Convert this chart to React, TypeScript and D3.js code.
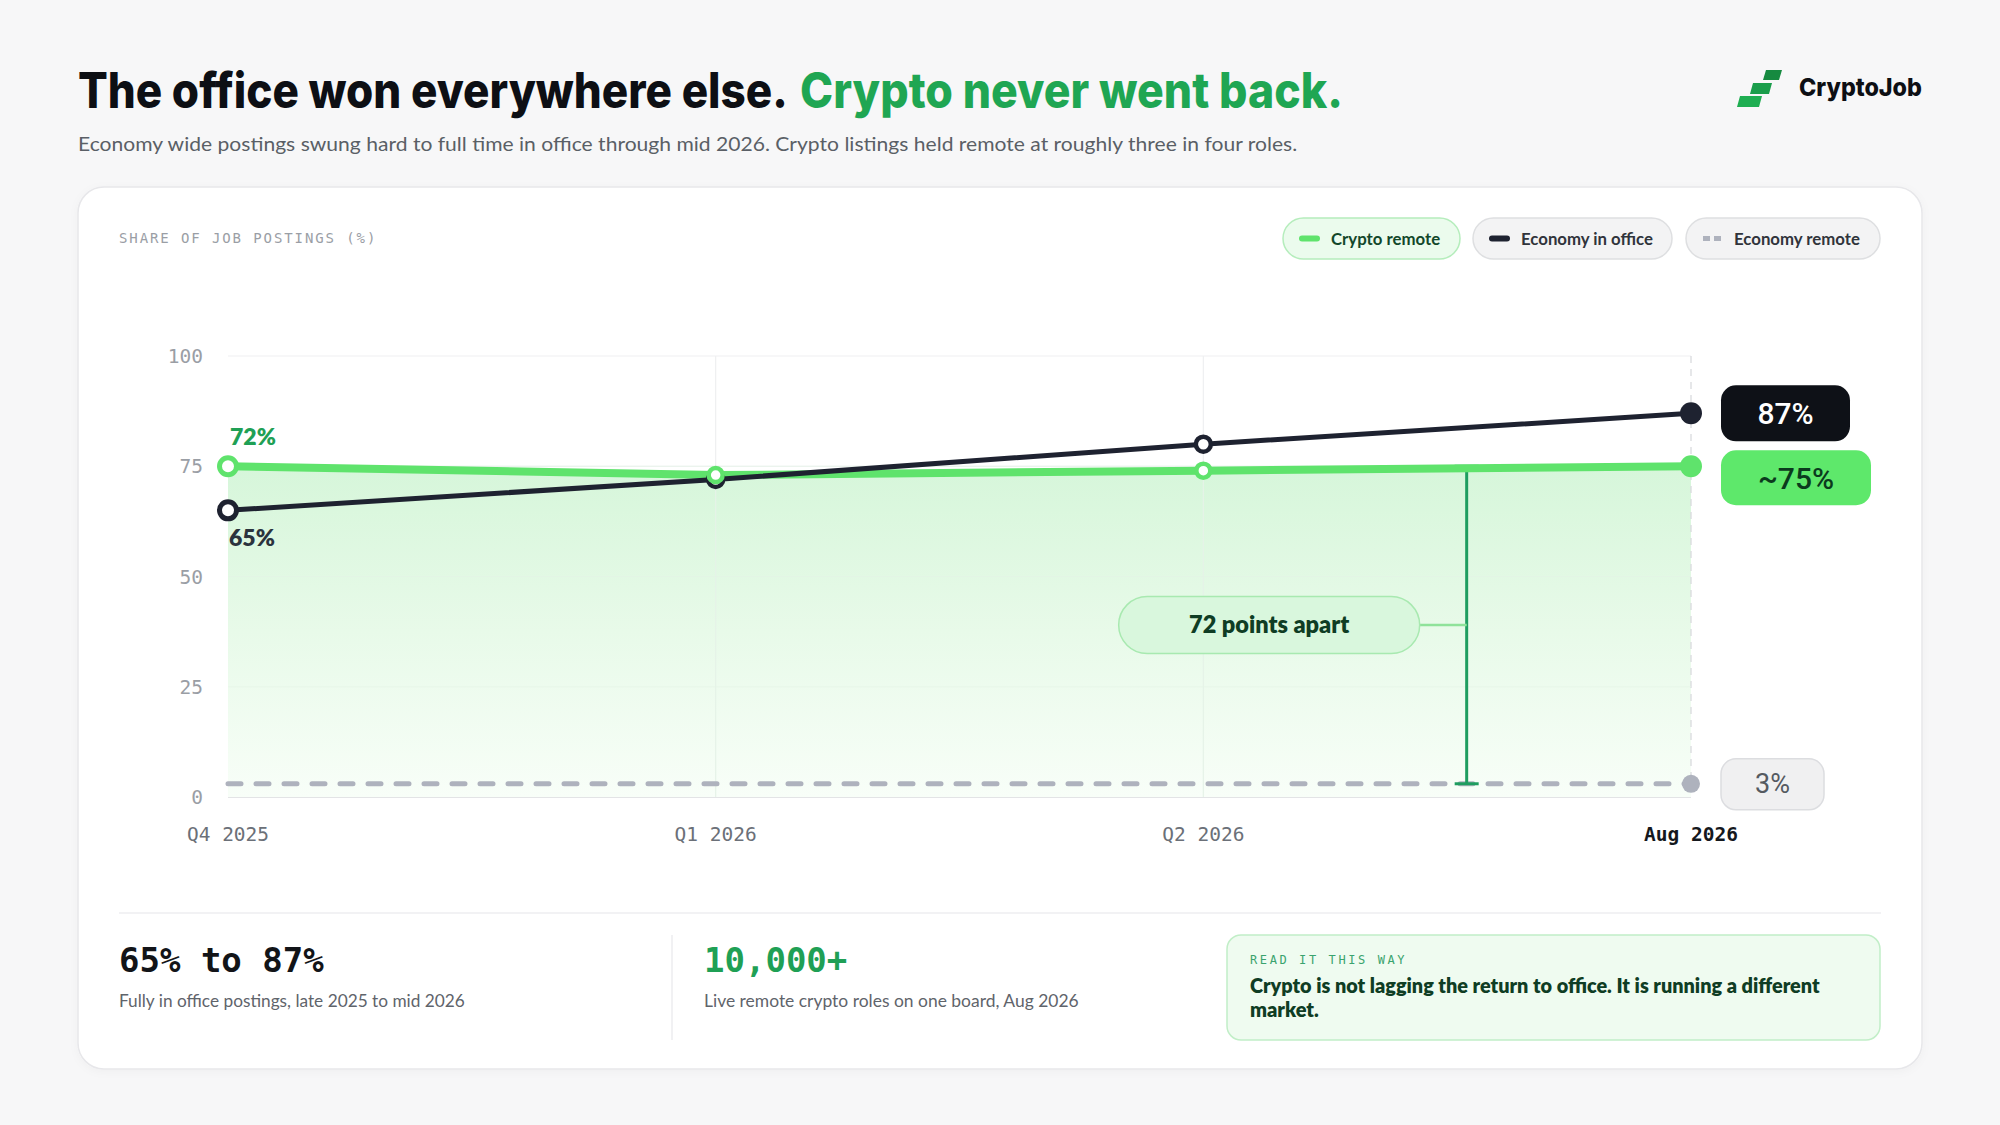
import React, { useLayoutEffect, useRef, useState } from "react";
import * as d3 from "d3";

const categories = ["Q4 2025", "Q1 2026", "Q2 2026", "Aug 2026"];
const cryptoRemote = [75, 73, 74, 75];
const economyInOffice = [65, 72, 80, 87];
const economyRemote = [3, 3, 3, 3];
const yTicks = [0, 25, 50, 75, 100];
const endLabels = ["87%", "~75%", "3%"];
const startLabels = ["72%", "65%"];
const gapLabel = "72 points apart";
const gapPosition = 0.54; // fraction between Q2 2026 and Aug 2026

const W = 2000;
const H = 1125;
const SANS = "Lato, 'Noto Sans', sans-serif";
const TITLE = "Inter, Lato, sans-serif";
const MONO = "'DejaVu Sans Mono', 'Liberation Mono', monospace";
const GREEN = "#5fe36c";
const DARK = "#1e2230";
const GREY = "#aeb2bd";

function FitText({ x, y, width, children, ...rest }: any) {
  const ref = useRef<SVGTextElement>(null);
  const [s, setS] = useState(1);
  useLayoutEffect(() => {
    if (ref.current) {
      const w = ref.current.getComputedTextLength();
      if (w > 0) setS(width / w);
    }
  }, [width]);
  return (
    <text ref={ref} transform={`translate(${x},${y}) scale(${s},1)`} {...rest}>
      {children}
    </text>
  );
}

export default function App() {
  const x = d3.scalePoint<string>().domain(categories).range([228, 1691]);
  const y = d3.scaleLinear().domain([0, 100]).range([797, 356]);
  const x0 = x(categories[0])!;
  const x1 = x(categories[categories.length - 1])!;

  const line = d3
    .line<number>()
    .x((_, i) => x(categories[i])!)
    .y((d) => y(d));
  const area = d3
    .area<number>()
    .x((_, i) => x(categories[i])!)
    .y0(y(0))
    .y1((d) => y(d));

  const gapX = x(categories[2])! + gapPosition * x.step();
  const gapTop = y(cryptoRemote[3]);
  const gapBot = y(economyRemote[3]);
  const gapMid = (gapTop + gapBot) / 2;
  const last = categories.length - 1;

  const legend = [
    { label: "Crypto remote", x: 1283, w: 177, fill: "#ebfbed", stroke: "#b5edbc", text: "#12472a", sw: GREEN, dash: false },
    { label: "Economy in office", x: 1473, w: 199, fill: "#f3f3f4", stroke: "#dedfe1", text: "#30343b", sw: DARK, dash: false },
    { label: "Economy remote", x: 1686, w: 194, fill: "#f3f3f4", stroke: "#dedfe1", text: "#30343b", sw: GREY, dash: true },
  ];

  return (
    <svg
      width={W}
      height={H}
      viewBox={`0 0 ${W} ${H}`}
      style={{ position: "absolute", left: 0, top: 0, display: "block" }}
    >
      <defs>
        <linearGradient id="areaGrad" gradientUnits="userSpaceOnUse" x1="0" y1={y(75)} x2="0" y2={y(0)}>
          <stop offset="0" stopColor="#d6f6da" />
          <stop offset="0.5" stopColor="#e8fae9" />
          <stop offset="1" stopColor="#f8fef8" />
        </linearGradient>
        <filter id="cardShadow" x="-5%" y="-5%" width="110%" height="110%">
          <feDropShadow dx="0" dy="2" stdDeviation="4" floodColor="#000" floodOpacity="0.03" />
        </filter>
      </defs>
      <rect x={0} y={0} width={W} height={H} fill="#f7f7f8" />

      {/* Title */}
      <FitText x={78} y={108} width={710} fontFamily={TITLE} fontWeight={800} fontSize={49} fill="#0d0f14">
        The office won everywhere else.
      </FitText>
      <FitText x={800} y={108} width={543} fontFamily={TITLE} fontWeight={800} fontSize={49} fill="#1fa653">
        Crypto never went back.
      </FitText>
      <FitText x={78} y={151} width={1220} fontFamily={SANS} fontSize={19.5} fill="#5a5f66">
        Economy wide postings swung hard to full time in office through mid 2026. Crypto listings held remote at roughly three in four roles.
      </FitText>

      {/* Logo */}
      <g>
        <path d="M1740,96 L1762,96 L1759,107 L1737,107 Z" fill="#1fae52" />
        <path d="M1753,83 L1772,83 L1769,94 L1750,94 Z" fill="#1a9d4b" />
        <path d="M1766,70 L1782,70 L1779,80 L1763,80 Z" fill="#168a40" />
      </g>
      <FitText x={1799} y={96} width={123} fontFamily={TITLE} fontWeight={800} fontSize={25} fill="#0d0f14">
        CryptoJob
      </FitText>

      {/* Card */}
      <rect x={78} y={187} width={1844} height={882} rx={26} fill="#ffffff" stroke="#e7e7ea" strokeWidth={1.5} filter="url(#cardShadow)" />

      <text x={119} y={243} fontFamily={MONO} fontSize={14} letterSpacing={1.9} fill="#9a9ea5">
        SHARE OF JOB POSTINGS (%)
      </text>

      {/* Legend */}
      {legend.map((l) => (
        <g key={l.label}>
          <rect x={l.x} y={218} width={l.w} height={41} rx={20.5} fill={l.fill} stroke={l.stroke} strokeWidth={1.5} />
          {l.dash ? (
            <g stroke={l.sw} strokeWidth={5}>
              <line x1={l.x + 17} x2={l.x + 24} y1={238.5} y2={238.5} />
              <line x1={l.x + 28} x2={l.x + 35} y1={238.5} y2={238.5} />
            </g>
          ) : (
            <line x1={l.x + 19} x2={l.x + 34} y1={238.5} y2={238.5} stroke={l.sw} strokeWidth={6} strokeLinecap="round" />
          )}
          <text x={l.x + 48} y={244.5} fontFamily={SANS} fontWeight={700} fontSize={16.8} fill={l.text}>
            {l.label}
          </text>
        </g>
      ))}

      {/* Grid */}
      {yTicks.map((t) => (
        <g key={t}>
          <line
            x1={x0}
            x2={x1}
            y1={y(t)}
            y2={y(t)}
            stroke={t === 0 ? "#e3e4e6" : "#f0f0f2"}
            strokeWidth={t === 0 ? 2 : 1.2}
          />
          <text x={203} y={y(t)} dy="0.36em" textAnchor="end" fontFamily={MONO} fontSize={19.5} fill="#9a9ea5">
            {t}
          </text>
        </g>
      ))}
      {categories.slice(1, last).map((c) => (
        <line key={c} x1={x(c)} x2={x(c)} y1={y(100)} y2={y(0)} stroke="#eeeff1" strokeWidth={1.2} />
      ))}

      {/* Area */}
      <path d={area(cryptoRemote)!} fill="url(#areaGrad)" />
      {categories.slice(1, last).map((c) => (
        <line key={"g" + c} x1={x(c)} x2={x(c)} y1={y(73)} y2={y(0)} stroke="#e6f3e8" strokeWidth={1.2} />
      ))}
      <line x1={x1} x2={x1} y1={y(100)} y2={y(0)} stroke="#d9dadd" strokeWidth={1.3} strokeDasharray="7 6" />
      {yTicks.slice(1, 4).map((t) => (
        <line key={"h" + t} x1={x0} x2={x1} y1={y(t)} y2={y(t)} stroke="#e4f4e6" strokeWidth={1} opacity={0.7} />
      ))}

      {/* Economy remote dashed */}
      <path d={line(economyRemote)!} fill="none" stroke={GREY} strokeWidth={5} strokeDasharray="13 15" strokeLinecap="round" />

      {/* Gap annotation */}
      <g stroke="#1f9d60" strokeWidth={3}>
        <line x1={gapX} x2={gapX} y1={gapTop} y2={gapBot} />
        <line x1={gapX - 12} x2={gapX + 12} y1={gapTop} y2={gapTop} />
        <line x1={gapX - 12} x2={gapX + 12} y1={gapBot} y2={gapBot} />
      </g>
      <line x1={gapX - 47} x2={gapX} y1={gapMid} y2={gapMid} stroke="#8fe29a" strokeWidth={2.5} />
      <rect x={gapX - 348} y={gapMid - 28.5} width={301} height={57} rx={28.5} fill="#d9f7dd" stroke="#a8e9b0" strokeWidth={1.5} />
      <text x={gapX - 197.5} y={gapMid} dy="0.36em" textAnchor="middle" fontFamily={SANS} fontWeight={800} fontSize={23.5} fill="#0f3d24">
        {gapLabel}
      </text>

      {/* Crypto remote line */}
      <path d={line(cryptoRemote)!} fill="none" stroke={GREEN} strokeWidth={8} strokeLinejoin="round" />
      {/* Economy in office line */}
      <path d={line(economyInOffice)!} fill="none" stroke={DARK} strokeWidth={5} strokeLinejoin="round" />

      {/* Points */}
      {economyInOffice.map((v, i) =>
        i === last ? (
          <circle key={"d" + i} cx={x(categories[i])} cy={y(v)} r={11} fill={DARK} />
        ) : (
          <circle key={"d" + i} cx={x(categories[i])} cy={y(v)} r={i === 0 ? 8.5 : 7.5} fill="#fff" stroke={DARK} strokeWidth={i === 0 ? 5 : 4.5} />
        )
      )}
      {cryptoRemote.map((v, i) =>
        i === last ? (
          <circle key={"c" + i} cx={x(categories[i])} cy={y(v)} r={11} fill={GREEN} />
        ) : (
          <circle key={"c" + i} cx={x(categories[i])} cy={y(v)} r={i === 0 ? 8.5 : 7} fill="#fff" stroke={GREEN} strokeWidth={i === 0 ? 5 : 4.5} />
        )
      )}
      <circle cx={x1} cy={y(economyRemote[last])} r={9} fill={GREY} />

      {/* Start labels */}
      <text x={x0 + 2} y={y(cryptoRemote[0]) - 21} fontFamily={SANS} fontWeight={800} fontSize={23} fill="#1fa055">
        {startLabels[0]}
      </text>
      <text x={x0 + 1} y={y(economyInOffice[0]) + 36} fontFamily={SANS} fontWeight={800} fontSize={23} fill="#2b333d">
        {startLabels[1]}
      </text>

      {/* End labels */}
      <rect x={1721} y={y(economyInOffice[last]) - 28} width={129} height={56} rx={15} fill="#0e1117" />
      <text x={1785.5} y={y(economyInOffice[last])} dy="0.36em" textAnchor="middle" fontFamily="Roboto, sans-serif" fontWeight={500} fontSize={30} fill="#ffffff">
        {endLabels[0]}
      </text>
      <rect x={1721} y={y(cryptoRemote[last]) - 16} width={150} height={55} rx={15} fill="#5ee86b" />
      <text x={1796} y={y(cryptoRemote[last]) + 11.5} dy="0.36em" textAnchor="middle" fontFamily="Roboto, sans-serif" fontWeight={500} fontSize={30} fill="#0b3a1d">
        {endLabels[1]}
      </text>
      <rect x={1721} y={y(economyRemote[last]) - 25} width={103} height={51} rx={15} fill="#f0f0f1" stroke="#dcdde0" strokeWidth={1.5} />
      <text x={1772.5} y={y(economyRemote[last])} dy="0.36em" textAnchor="middle" fontFamily="Roboto, sans-serif" fontWeight={400} fontSize={27} fill="#555a61">
        {endLabels[2]}
      </text>

      {/* X axis labels */}
      {categories.map((c, i) => (
        <text
          key={c}
          x={x(c)}
          y={841}
          textAnchor="middle"
          fontFamily={MONO}
          fontSize={19.5}
          fontWeight={i === last ? 700 : 400}
          fill={i === last ? "#15181d" : "#6b7078"}
        >
          {c}
        </text>
      ))}

      {/* Bottom stats */}
      <line x1={119} x2={1881} y1={913} y2={913} stroke="#eeeef0" strokeWidth={1.5} />
      <text x={119} y={972} fontFamily={MONO} fontWeight={700} fontSize={34} fill="#121418">
        65% to 87%
      </text>
      <FitText x={119} y={1007} width={346} fontFamily={SANS} fontSize={17} fill="#5f646b">
        Fully in office postings, late 2025 to mid 2026
      </FitText>
      <line x1={672} x2={672} y1={935} y2={1040} stroke="#ededef" strokeWidth={1.5} />
      <text x={704} y={972} fontFamily={MONO} fontWeight={700} fontSize={34} fill="#1fa055">
        10,000+
      </text>
      <FitText x={704} y={1007} width={375} fontFamily={SANS} fontSize={17} fill="#5f646b">
        Live remote crypto roles on one board, Aug 2026
      </FitText>

      <rect x={1227} y={935} width={653} height={105} rx={14} fill="#effbf0" stroke="#c1eec7" strokeWidth={1.5} />
      <text x={1250} y={964} fontFamily={MONO} fontSize={12} letterSpacing={2.6} fill="#3aa36e">
        READ IT THIS WAY
      </text>
      <FitText x={1250} y={993} width={570} fontFamily={SANS} fontWeight={800} fontSize={20} fill="#0f3d24">
        Crypto is not lagging the return to office. It is running a different
      </FitText>
      <text x={1250} y={1017} fontFamily={SANS} fontWeight={800} fontSize={20} fill="#0f3d24">
        market.
      </text>
    </svg>
  );
}
